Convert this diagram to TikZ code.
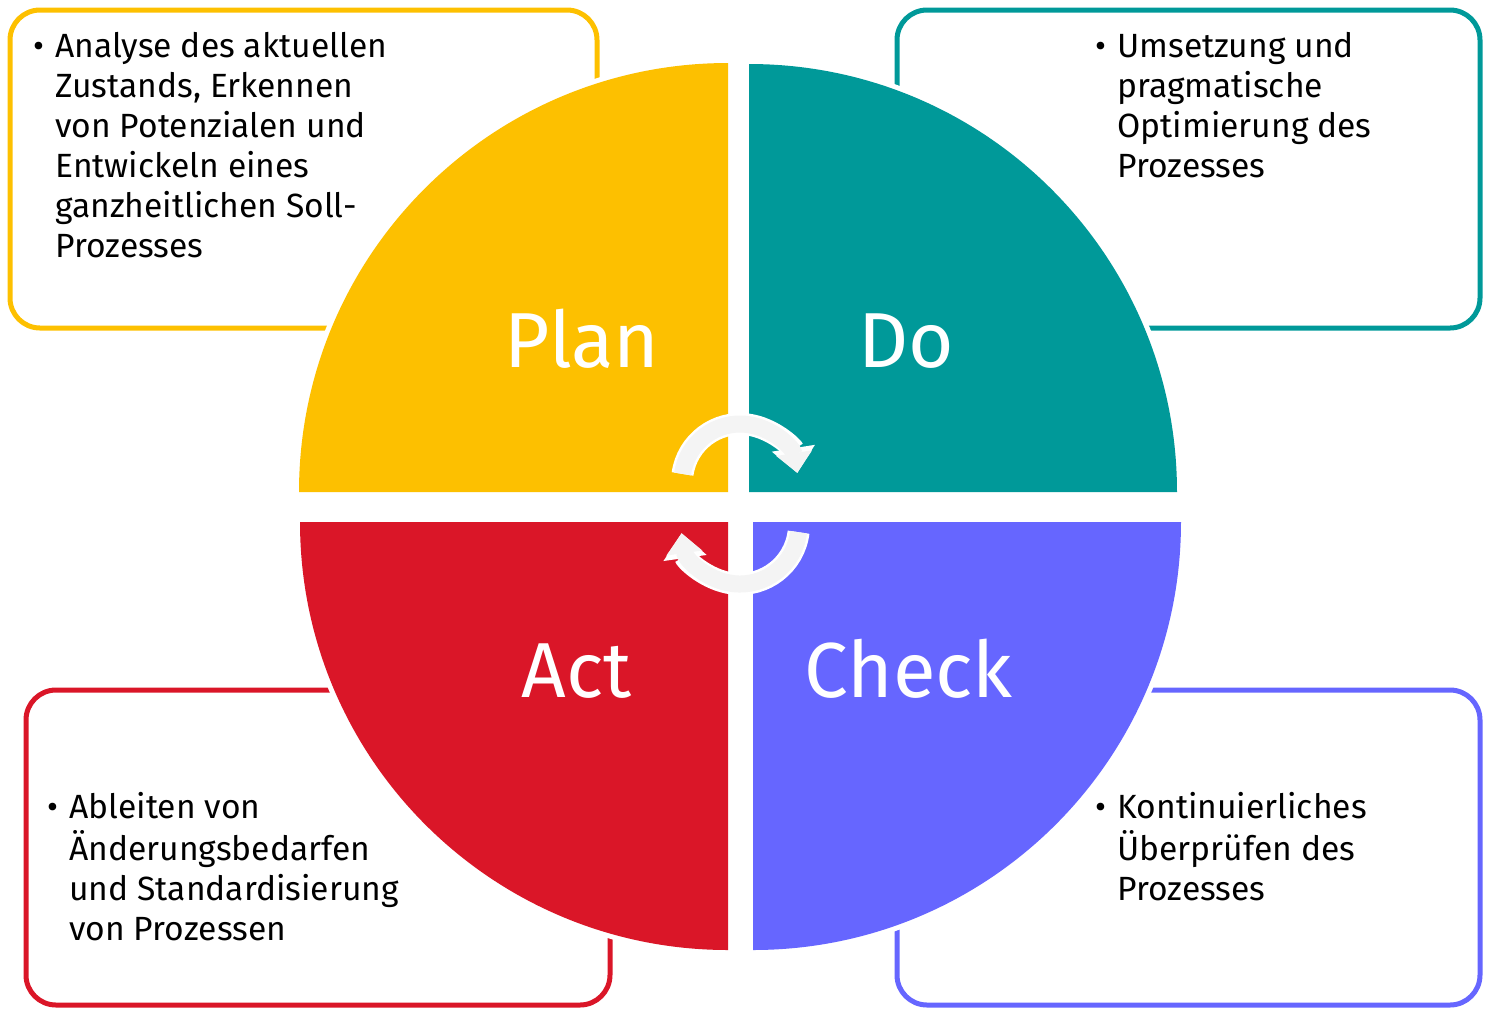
\documentclass[tikz,border=0pt]{standalone}
\usepackage{fontspec}
\setmainfont{Fira Sans}
\usetikzlibrary{arrows.meta}

\definecolor{plancol}{HTML}{FDC000}
\definecolor{docol}{HTML}{009999}
\definecolor{checkcol}{HTML}{6666FF}
\definecolor{actcol}{HTML}{DA1628}
\definecolor{arrowcol}{HTML}{F4F4F4}

\newcommand{\itemlines}[1]{\begin{tabular}[t]{@{}p{11pt}@{}l@{}}\textbullet & #1\end{tabular}}

\tikzset{
  phasebox/.style={draw=#1, line width=2.5pt, rounded corners=15pt},
  halo/.style={draw=white, line width=5pt},
  phaselabel/.style={text=white, anchor=base west, inner sep=0pt,
    font=\fontsize{39}{46}\selectfont},
  itemtext/.style={anchor=base west, inner sep=0pt,
    font=\fontsize{16.8}{20}\selectfont},
  arrowout/.style={white, line width=11pt, -{Triangle[width=21pt,length=12.5pt]}},
  arrowin/.style={arrowcol, line width=8.5pt, -{Triangle[width=17.5pt,length=10pt]}}
}

\begin{document}
\begin{tikzpicture}[x=0.5pt, y=-0.5pt]
  \useasboundingbox (0,0) rectangle (1485,1009);

  % boxes behind the circle
  \draw[phasebox=plancol]  (10,10)   rectangle (597,328);
  \draw[phasebox=docol]    (897,10)  rectangle (1480,328);
  \draw[phasebox=actcol]   (26,690)  rectangle (610,1005);
  \draw[phasebox=checkcol] (897,690) rectangle (1480,1005);

  % quarters of the circle
  \foreach \cx/\cy/\a/\r in {728/492/180/429, 749/492/270/428, 753/522/0/428, 728/522/90/428}
    \path[halo] (\cx,\cy) -- ++(\a:\r) arc[start angle=\a, delta angle=90, radius=\r] -- cycle;
  \foreach \cx/\cy/\a/\r/\col in {728/492/180/429/plancol, 749/492/270/428/docol,
                                  753/522/0/428/checkcol, 728/522/90/428/actcol}
    \fill[\col] (\cx,\cy) -- ++(\a:\r) arc[start angle=\a, delta angle=90, radius=\r] -- cycle;

  \node[phaselabel] (plan)  at (504,367) {Plan};
  \node[phaselabel] (do)    at (858,367) {Do};
  \node[phaselabel] (act)   at (521,697) {Act};
  \node[phaselabel] (check) at (804,697) {Check};

  % cycle arrows
  \coordinate (topc) at (740,482);
  \coordinate (botc) at (740,525);
  \foreach \s in {arrowout, arrowin} {
    \draw[\s] ([shift={(188:58)}]topc) arc[start angle=188, end angle=351, radius=58];
    \draw[\s] ([shift={(7:59)}]botc) arc[start angle=7, end angle=172, radius=59];
  }

  % descriptions
  \node[itemtext] (plantext) at (33,57) {\itemlines{Analyse des aktuellen\\ & Zustands, Erkennen\\ & von Potenzialen und\\ & Entwickeln eines\\ & ganzheitlichen Soll-\\ & Prozesses}};
  \node[itemtext] (dotext) at (1095,57) {\itemlines{Umsetzung und\\ & pragmatische\\ & Optimierung des\\ & Prozesses}};
  \node[itemtext] (acttext) at (47,818) {\itemlines{Ableiten von\\ & Änderungsbedarfen\\ & und Standardisierung\\ & von Prozessen}};
  \node[itemtext] (checktext) at (1095,818) {\itemlines{Kontinuierliches\\ & Überprüfen des\\ & Prozesses}};
\end{tikzpicture}
\end{document}
